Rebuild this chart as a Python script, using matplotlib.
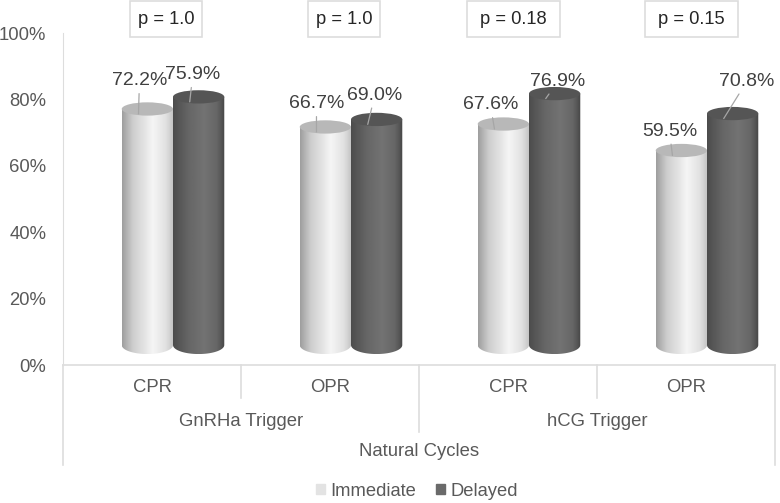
import numpy as np
import matplotlib
matplotlib.use("Agg")
import matplotlib.pyplot as plt
from matplotlib.patches import Ellipse, PathPatch, Patch, Rectangle
from matplotlib.path import Path

plt.rcParams['font.family'] = ['Liberation Sans', 'DejaVu Sans']

# Values
metrics = ["CPR", "OPR", "CPR", "OPR"]
triggers = ["GnRHa Trigger", "hCG Trigger"]
group_name = "Natural Cycles"
immediate = [72.2, 66.7, 67.6, 59.5]
delayed = [75.9, 69.0, 76.9, 70.8]
p_values = ["p = 1.0", "p = 1.0", "p = 0.18", "p = 0.15"]
y_ticks = [0, 20, 40, 60, 80, 100]

# Label offsets from the end of each leader line, in pixels
imm_offsets = [(1, 33), (0, 28), (-4, 24), (-3, 24)]
del_offsets = [(3, 27), (7, 29), (12, 17), (23, 37)]
# p value boxes: shift from the category centre and width, in category units
p_shift = [0.08, 0.08, 0.03, 0.03]
p_width = [0.404, 0.404, 0.522, 0.522]

GREY = "#595959"
LINE = "#dddddd"

W, H = 780, 503
fig = plt.figure(figsize=(W / 100, H / 100), dpi=100)
ax = fig.add_axes([63 / W, 1 - 365 / H, 712 / W, 332 / H])

bar_w = 0.288
shift = 0.118  # the 3D view pushes the pairs to the right
base = 6.0     # floor of the 3D box
scale = 0.985
top_h = 2.0
bottom_h = 2.7


def cylinder(xc, value, stops, top_color, z):
    top = base + scale * value
    left, right = xc - bar_w / 2, xc + bar_w / 2
    t = np.linspace(np.pi, 2 * np.pi, 40)
    bottom_x = xc + bar_w / 2 * np.cos(t)
    bottom_y = base + bottom_h * np.sin(t)
    verts = list(zip(bottom_x, bottom_y)) + [(right, top), (left, top)]
    clip = PathPatch(Path(verts + [verts[0]]), transform=ax.transData)
    pos = np.linspace(0, 1, 100)
    shade = np.interp(pos, [s[0] for s in stops], [s[1] for s in stops])
    im = ax.imshow(shade[None, :], cmap="gray", vmin=0, vmax=1, aspect="auto",
                   extent=(left, right, base - bottom_h, top), zorder=z,
                   interpolation="bilinear")
    im.set_clip_path(clip)
    ax.add_patch(Ellipse((xc, top), bar_w, 2 * top_h, facecolor=top_color,
                         edgecolor="none", zorder=z + 0.1))
    return top


light_stops = [(0, 0.62), (0.2, 0.8), (0.6, 0.96), (0.85, 0.88), (1, 0.76)]
dark_stops = [(0, 0.3), (0.3, 0.4), (0.6, 0.45), (0.85, 0.4), (1, 0.28)]

for i in range(4):
    xc = i + 0.5 + shift
    x1, x2 = xc - bar_w / 2, xc + bar_w / 2
    t1 = cylinder(x1, immediate[i], light_stops, "#b8b8b8", 2)
    t2 = cylinder(x2, delayed[i], dark_stops, "#555555", 3)
    for x, top, val, off in [(x1, t1, immediate[i], imm_offsets[i]),
                             (x2, t2, delayed[i], del_offsets[i])]:
        ax.annotate(f"{val:.1f}%", xy=(x - 0.05, top - 1.5), xytext=off,
                    textcoords="offset pixels", ha="center", va="center",
                    fontsize=14, color="#404040", zorder=6, annotation_clip=False,
                    arrowprops=dict(arrowstyle="-", color="#a6a6a6", lw=0.9,
                                    shrinkA=1, shrinkB=0))
    pc = i + 0.5 + p_shift[i]
    ax.add_patch(Rectangle((pc - p_width[i] / 2, 98.8), p_width[i], 10.8, fc="white",
                           ec=LINE, lw=1.2, clip_on=False))
    ax.text(pc, 104.2, p_values[i], ha="center", va="center",
            fontsize=13.2, color="#262626", clip_on=False)
    ax.text(i + 0.5, -6.9, metrics[i], ha="center", va="center", fontsize=13.3,
            color=GREY, clip_on=False)

ax.set_xlim(0, 4)
ax.set_ylim(0, 100)
ax.set_yticks(y_ticks)
ax.set_yticklabels([f"{v}%" for v in y_ticks], fontsize=13.3, color=GREY)
ax.tick_params(axis="y", length=0, pad=12)
ax.set_xticks([])
for side in ["top", "right", "bottom"]:
    ax.spines[side].set_visible(False)
ax.spines["left"].set_color(LINE)
ax.patch.set_visible(False)

# multi level category axis
ax.plot([0, 4], [0, 0], color=LINE, lw=1.2, clip_on=False, zorder=1)
ax.plot([0, 0], [0, -30.1], color=LINE, lw=1.2, clip_on=False)
ax.plot([4, 4], [0, -30.1], color=LINE, lw=1.2, clip_on=False)
ax.plot([1, 1], [0, -9.9], color=LINE, lw=1.2, clip_on=False)
ax.plot([3, 3], [0, -9.9], color=LINE, lw=1.2, clip_on=False)
ax.plot([2, 2], [0, -20.2], color=LINE, lw=1.2, clip_on=False)
for k, name in enumerate(triggers):
    ax.text(1 + 2 * k, -16.9, name, ha="center", va="center", fontsize=13.3,
            color=GREY, clip_on=False)
ax.text(2, -26.2, group_name, ha="center", va="center", fontsize=13.3,
        color=GREY, clip_on=False)

handles = [Patch(color="#e3e3e3", label="Immediate"),
           Patch(color="#6a6a6a", label="Delayed")]
fig.legend(handles=handles, loc="center", bbox_to_anchor=(417 / W, 1 - 491 / H),
           ncol=2, frameon=False, fontsize=13.2, labelcolor=GREY, handlelength=0.5,
           handleheight=0.5, handletextpad=0.3, columnspacing=1.1)

fig.savefig("out.png", dpi=100)
